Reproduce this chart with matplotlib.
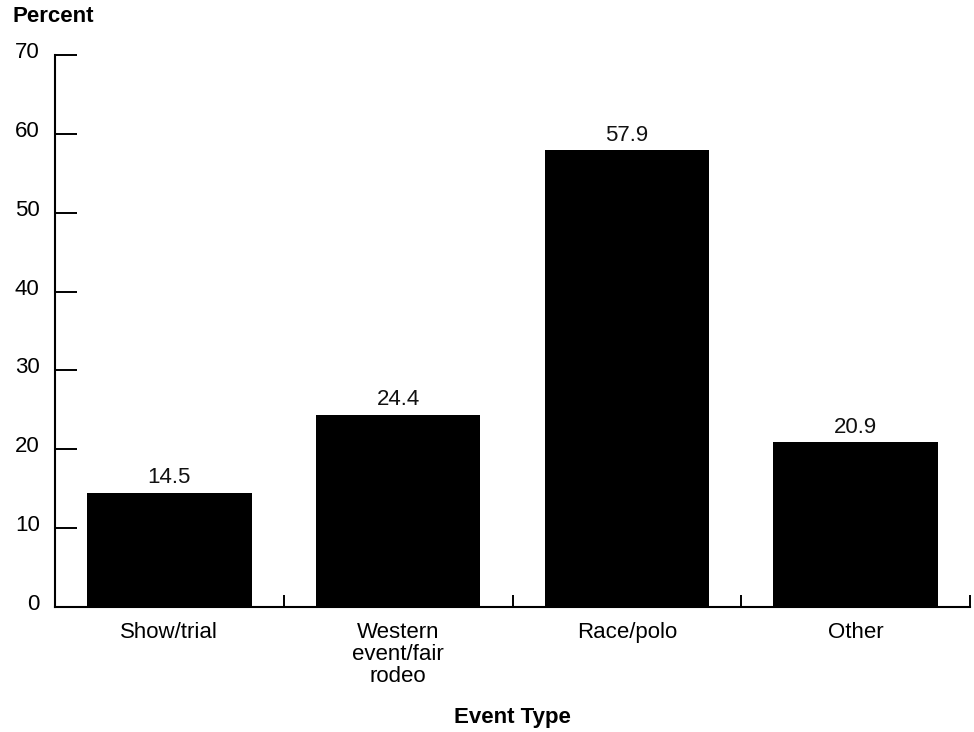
import numpy as np
import matplotlib.pyplot as plt
import matplotlib.transforms as mtransforms

plt.rcParams['font.family'] = ['Liberation Sans', 'DejaVu Sans']

categories = ["Show/trial", "Western\nevent/fair\nrodeo", "Race/polo", "Other"]
percent = [14.5, 24.4, 57.9, 20.9]
y_ticks = [0, 10, 20, 30, 40, 50, 60, 70]

W, H = 974, 732
FS = 16
fig = plt.figure(figsize=(W / 100, H / 100), dpi=100)
ax = fig.add_axes([55 / W, (H - 607) / H, (970 - 55) / W, (607 - 55) / H])

x = np.arange(len(categories))
ax.bar(x, percent, width=0.72, color='black', zorder=1)

for xi, v in zip(x, percent):
    ax.annotate(f"{v:.1f}", (xi, v), xytext=(0, 3), textcoords='offset points',
                ha='center', va='bottom', fontsize=FS, color='#111111')

ax.set_xlim(-0.5, len(categories) - 0.5)
ax.set_ylim(0, 70)

# tick marks at category boundaries, labels at centres
ax.set_xticks(np.arange(len(categories) + 1) - 0.5)
ax.set_xticklabels([])
ax.set_xticks(x, minor=True)
ax.set_xticklabels(categories, minor=True, fontsize=FS, linespacing=1.05)
ax.tick_params(axis='x', which='major', direction='in', length=9, width=1.4)
ax.tick_params(axis='x', which='minor', length=0, pad=11)

ax.set_yticks(y_ticks)
ax.set_yticklabels([str(t) for t in y_ticks], fontsize=FS)
ax.tick_params(axis='y', direction='in', length=16, width=1.4, pad=11)

# the labels sit a little above their ticks in the original
lift = mtransforms.ScaledTranslation(0, 5 / 100, fig.dpi_scale_trans)
for lab in ax.get_yticklabels():
    lab.set_transform(lab.get_transform() + lift)

for side in ['top', 'right']:
    ax.spines[side].set_visible(False)
for side in ['left', 'bottom']:
    ax.spines[side].set_linewidth(1.5)

fig.text(13 / W, 1 - 16 / H, "Percent", fontsize=FS, fontweight='bold',
         ha='left', va='center')
fig.text(512 / W, 1 - 717 / H, "Event Type", fontsize=FS, fontweight='bold',
         ha='center', va='center')

fig.savefig("out.png", dpi=100)
